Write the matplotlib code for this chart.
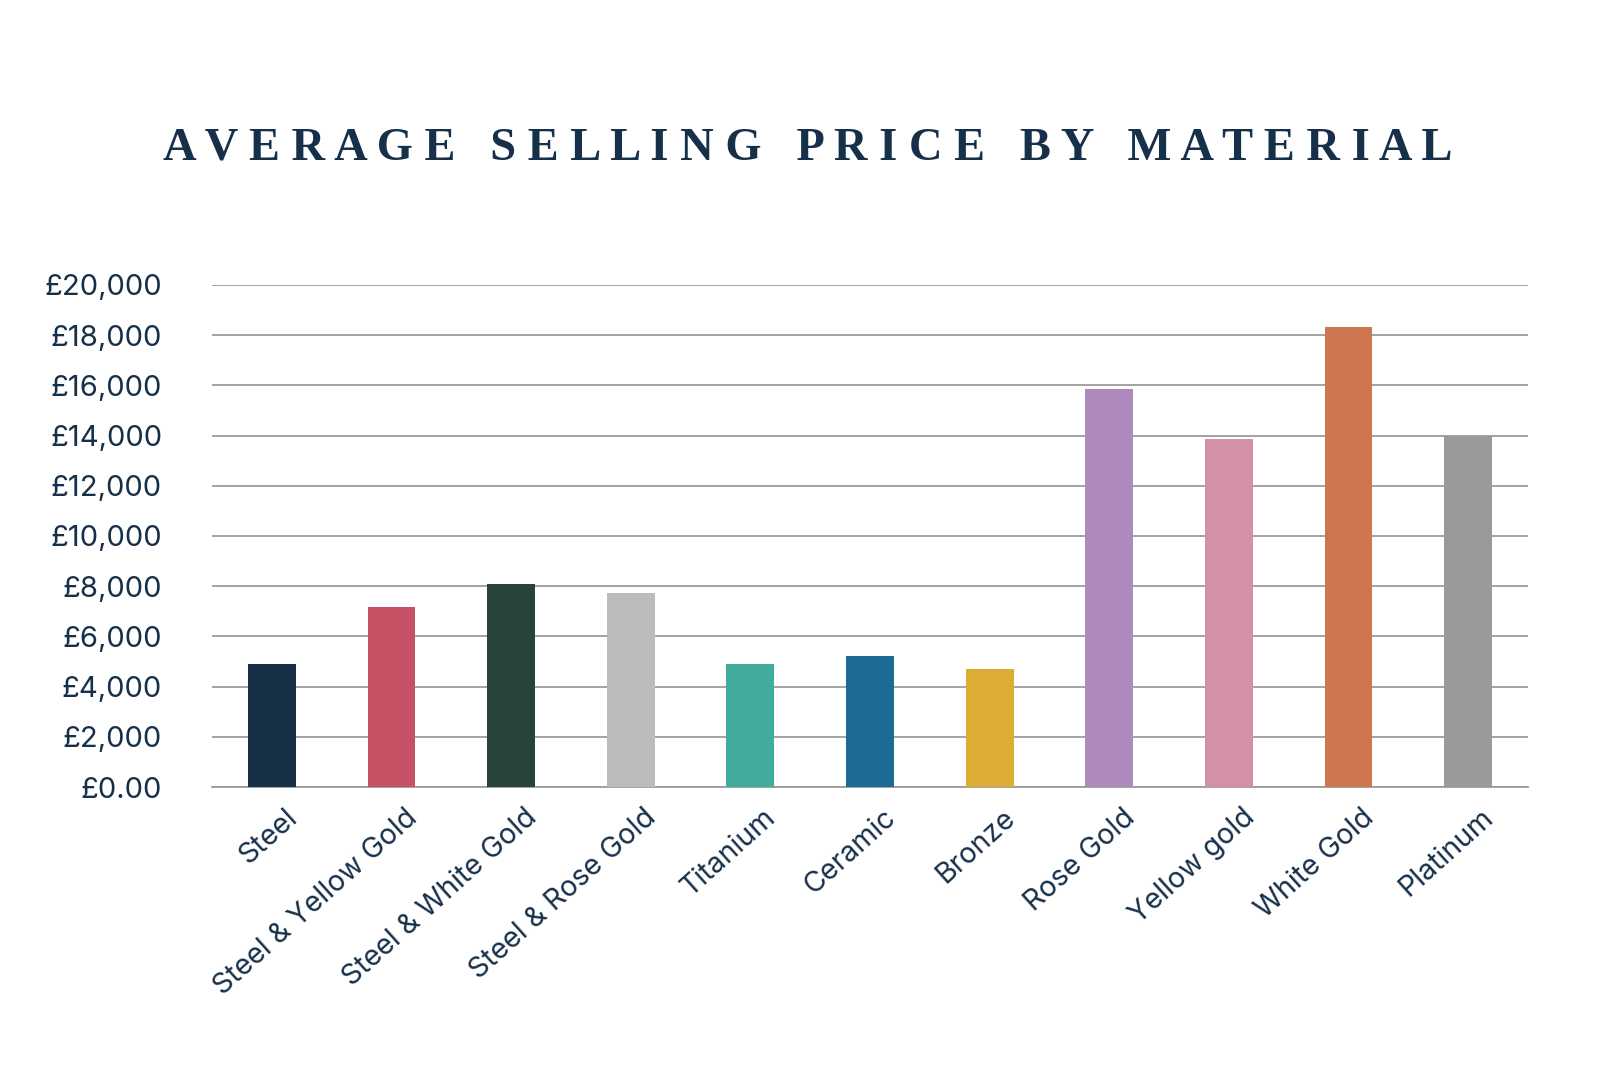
import matplotlib
matplotlib.use('Agg')
import matplotlib.pyplot as plt
from matplotlib.ticker import FuncFormatter
import matplotlib.transforms as mtransforms

# data
materials = ['Steel', 'Steel & Yellow Gold', 'Steel & White Gold', 'Steel & Rose Gold',
             'Titanium', 'Ceramic', 'Bronze', 'Rose Gold', 'Yellow gold',
             'White Gold', 'Platinum']
avg_price = [4900, 7160, 8090, 7730, 4900, 5220, 4710, 15850, 13860, 18340, 14000]
bar_colors = ['#172F45', '#C65064', '#27433C', '#BCBCBE', '#43AB9B', '#1B6B92',
              '#DDAC35', '#AE89BE', '#D490A4', '#CD7451', '#9A9A9A']
y_ticks = list(range(0, 20001, 2000))

navy = '#17304A'
grid_grey = '#9C9C9C'

fig = plt.figure(figsize=(16, 10.66), dpi=100)
ax = fig.add_axes([0.1325, 0.2617, 0.8225, 0.471])

x = list(range(len(materials)))
ax.bar(x, avg_price, width=0.4, color=bar_colors, zorder=3)

ax.set_xlim(-0.5, len(materials) - 0.5)
ax.set_ylim(0, 20000)
ax.set_yticks(y_ticks)


def money(v, pos):
    if v == 0:
        return '£0.00'
    return '£{:,.0f}'.format(v)


ax.yaxis.set_major_formatter(FuncFormatter(money))
ax.grid(axis='y', color=grid_grey, linewidth=1.3, zorder=0)
for side in ['top', 'right', 'left']:
    ax.spines[side].set_visible(False)
ax.spines['bottom'].set_color(grid_grey)
ax.spines['bottom'].set_linewidth(1.3)
ax.tick_params(axis='both', length=0)
ax.tick_params(axis='y', pad=36, labelsize=21, labelcolor=navy)

ax.set_xticks(x)
ax.set_xticklabels(materials, rotation=42, ha='right', va='center',
                   rotation_mode='anchor', fontsize=20.5, color=navy)
offset = mtransforms.ScaledTranslation(0.22, -0.22, fig.dpi_scale_trans)
for lab in ax.get_xticklabels():
    lab.set_transform(lab.get_transform() + offset)
for lab in ax.get_xticklabels() + ax.get_yticklabels():
    lab.set_family(['Inter', 'DejaVu Sans'])

# letter-spaced title
title_str = '   '.join(' '.join(w) for w in 'AVERAGE SELLING PRICE BY MATERIAL'.split())
title = fig.text(0.505, 0.861, title_str, ha='center', va='center',
                 fontsize=40, fontweight='bold', color=navy,
                 family=['Liberation Serif', 'DejaVu Serif'])
# fit the title to the width it takes in the reference
fig.canvas.draw()
w = title.get_window_extent().width
title.set_fontsize(40 * 1291 / w)

fig.savefig('out.png', dpi=100, facecolor='white')
